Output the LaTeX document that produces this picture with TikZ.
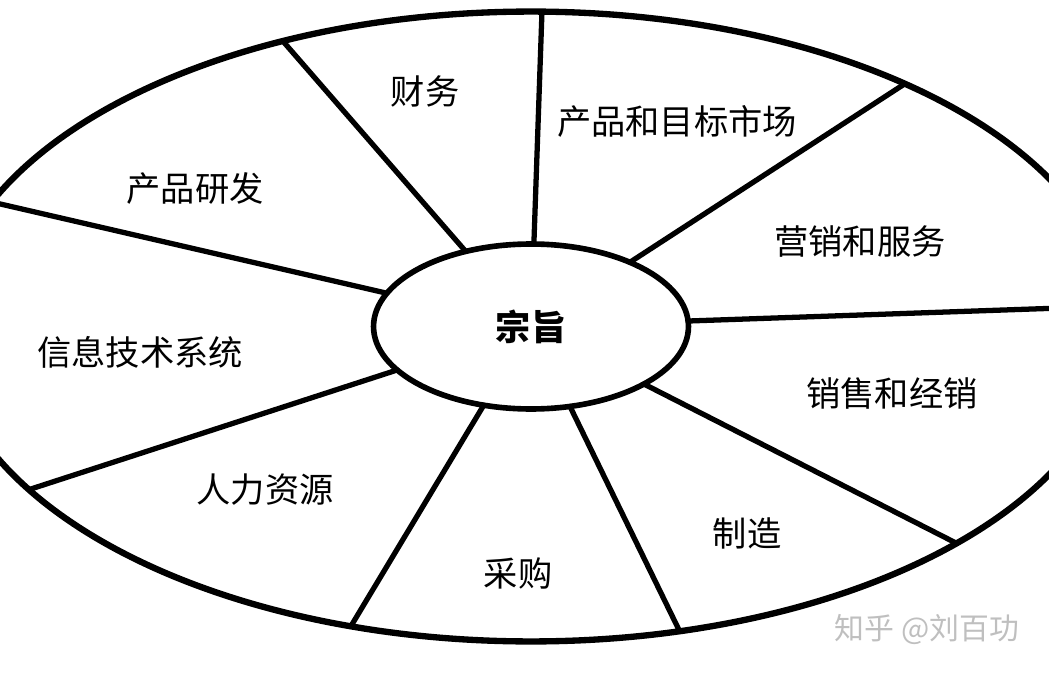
\documentclass[tikz,border=0pt]{standalone}
\usepackage{fontspec}
\usetikzlibrary{shapes.geometric}
\newfontfamily\cjk{Noto Sans CJK SC}

\begin{document}
\begin{tikzpicture}[
  x=0.02cm, y=-0.02cm,
  line cap=round,
  line join=round,
  every node/.style={font=\cjk\fontsize{19.5}{22}\selectfont},
  rimline/.style={ellipse, draw, line width=3.6pt, minimum width=23.48cm,
    minimum height=12.6cm, inner sep=0pt, outer sep=0pt},
  hub/.style={ellipse, draw, line width=3.2pt, minimum width=6.3cm,
    minimum height=3.3cm, inner sep=0pt, outer sep=0pt,
    font=\cjk\bfseries\fontsize{20}{22}\selectfont},
  spoke/.style={line width=3pt}
]
  \useasboundingbox (0,0) rectangle (1049,673);
  \clip (0,0) rectangle (1049,673);

  % Outer rim and hub share one centre
  \node[rimline] (rim) at (531,326.5) {};
  \node[hub] (core) at (531,326.5) {宗旨};

  % Spokes (angles seen from the common centre)
  \foreach \ang in {2.2, 33.1, 88.7, 131.6, 167.8, 198.6, 239.4, 296.6, 333.8}{
    \draw[spoke] (core.\ang) -- (rim.\ang);
  }

  % Sector labels
  \node (finance)  at (425,91)  {财务};
  \node (market)   at (677,121) {产品和目标市场};
  \node (rnd)      at (195,189) {产品研发};
  \node (service)  at (860,242) {营销和服务};
  \node (itsys)    at (140,352) {信息技术系统};
  \node (sales)    at (892,393) {销售和经销};
  \node (hr)       at (265,490) {人力资源};
  \node (mfg)      at (747,533) {制造};
  \node (purchase) at (518,573) {采购};

  % Watermark
  \node[text=gray!50, font=\cjk\fontsize{17}{19}\selectfont] (mark) at (927,630) {知乎 @刘百功};
\end{tikzpicture}
\end{document}
